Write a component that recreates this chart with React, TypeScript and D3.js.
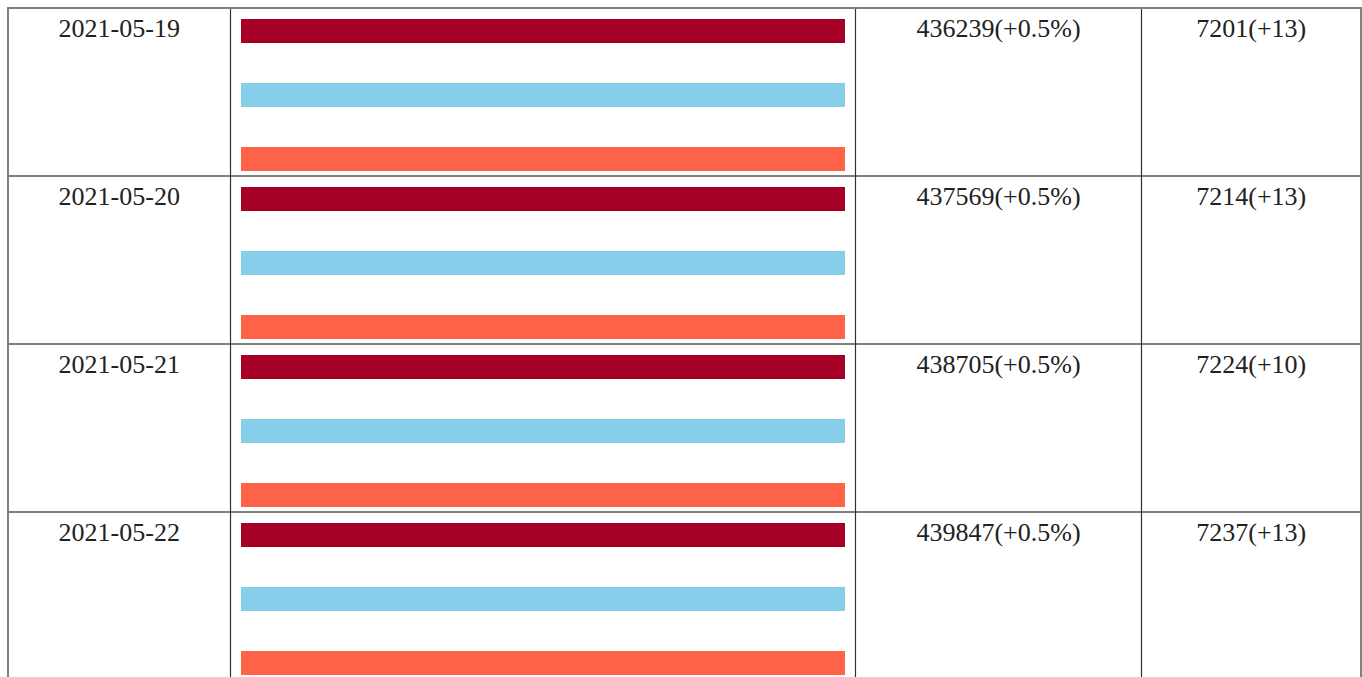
import React from 'react';
import { scaleBand, scaleLinear } from 'd3';

const dates = ['2021-05-19', '2021-05-20', '2021-05-21', '2021-05-22'];
const barKeys = ['a', 'b', 'c'];
const barA = [1, 1, 1, 1];
const barB = [1, 1, 1, 1];
const barC = [1, 1, 1, 1];
const cases = ['436239(+0.5%)', '437569(+0.5%)', '438705(+0.5%)', '439847(+0.5%)'];
const deaths = ['7201(+13)', '7214(+13)', '7224(+10)', '7237(+13)'];

const colors = ['#a50026', '#87ceeb', '#ff6347'];
const colEdges = [8, 230.5, 855.5, 1141.5, 1361];

const W = 1362;
const H = 677;
const ROW_H = 168;
const TOP = 8;

const App: React.FC = () => {
    const y = scaleBand<string>().domain(dates).range([TOP, TOP + ROW_H * dates.length]);
    const inner = scaleBand<string>().domain(barKeys).range([11, 163]).paddingInner(0.625).paddingOuter(0);
    const x = scaleLinear().domain([0, 1]).range([241, 845]);
    const series = [barA, barB, barC];

    const font = '"Liberation Serif", "DejaVu Serif", serif';

    return (
        <svg width={W} height={H} style={{ position: 'absolute', left: 0, top: 0 }}>
            <rect x={0} y={0} width={W} height={H} fill="#fff" />
            {dates.map((d, i) => {
                const top = y(d)!;
                return (
                    <g key={d}>
                        {series.map((s, j) => (
                            <rect
                                key={j}
                                x={x(0)}
                                y={top + inner(barKeys[j])!}
                                width={x(s[i]) - x(0)}
                                height={inner.bandwidth()}
                                fill={colors[j]}
                            />
                        ))}
                        <text x={(colEdges[0] + colEdges[1]) / 2} y={top + 29} textAnchor="middle"
                            fontFamily={font} fontSize={26} fill="#222">{d}</text>
                        <text x={(colEdges[2] + colEdges[3]) / 2} y={top + 29} textAnchor="middle"
                            fontFamily={font} fontSize={26} fill="#222">{cases[i]}</text>
                        <text x={(colEdges[3] + colEdges[4]) / 2} y={top + 29} textAnchor="middle"
                            fontFamily={font} fontSize={26} fill="#222">{deaths[i]}</text>
                        {i > 0 && (
                            <line x1={colEdges[0]} x2={colEdges[4]} y1={top} y2={top} stroke="#808080" strokeWidth={2} />
                        )}
                    </g>
                );
            })}
            {colEdges.slice(1, 4).map((cx) => (
                <line key={cx} x1={cx} x2={cx} y1={TOP} y2={H} stroke="#333" strokeWidth={1.2} />
            ))}
            <line x1={colEdges[0]} x2={colEdges[0]} y1={TOP - 1} y2={H} stroke="#808080" strokeWidth={2} />
            <line x1={colEdges[4]} x2={colEdges[4]} y1={TOP - 1} y2={H} stroke="#808080" strokeWidth={2} />
            <line x1={colEdges[0] - 1} x2={colEdges[4] + 1} y1={TOP} y2={TOP} stroke="#808080" strokeWidth={2} />
        </svg>
    );
};

export default App;
